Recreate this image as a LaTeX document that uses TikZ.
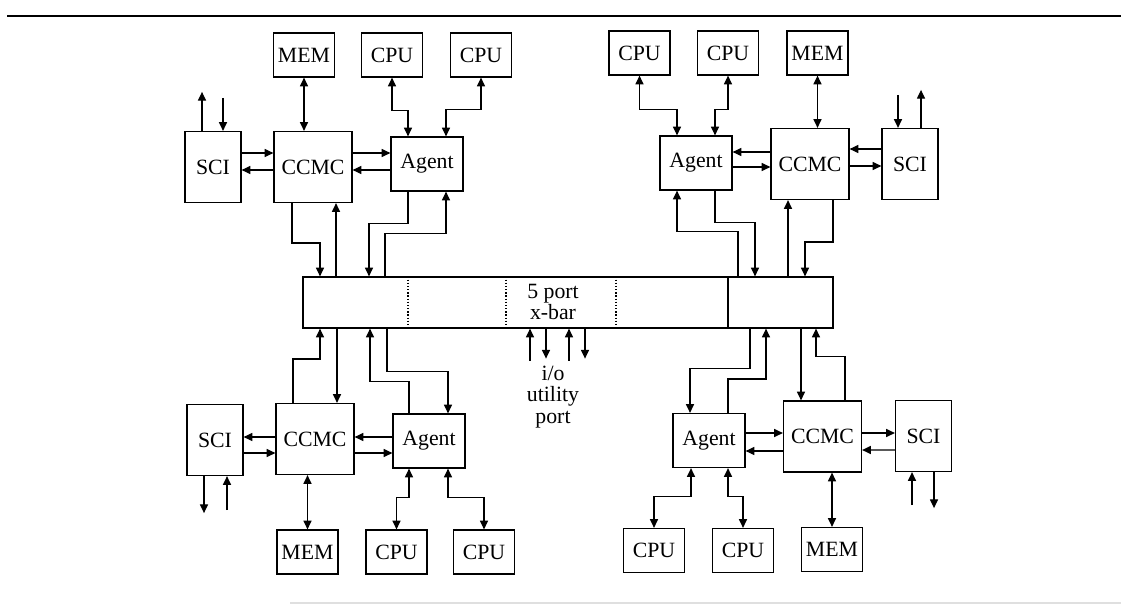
\documentclass[tikz,border=0pt]{standalone}
\usepackage{fontspec}
\setmainfont{Liberation Serif}
\usetikzlibrary{arrows.meta,calc}

\begin{document}
\begin{tikzpicture}[x=0.02cm, y=-0.02cm,
  box/.style={draw, line width=0.7pt, inner sep=0pt, font=\fontsize{12.4}{12}\selectfont},
  unitbox/.style={box, minimum width=1.22cm, minimum height=0.88cm},
  scibox/.style={box, minimum width=1.12cm, minimum height=1.42cm},
  ccbox/.style={box, minimum width=1.56cm, minimum height=1.42cm},
  agbox/.style={box, minimum width=1.44cm, minimum height=1.08cm},
  arr/.style={line width=0.7pt, -{Triangle[length=5pt,width=4.6pt]}},
  bi/.style={line width=0.7pt, {Triangle[length=5pt,width=4.6pt]}-{Triangle[length=5pt,width=4.6pt]}}]
  \useasboundingbox (0,0) rectangle (1121,605);
  % page rules
  \draw[line width=0.9pt] (7,16) -- (1121,16);
  \draw[gray!25, line width=0.6pt] (290,603) -- (1121,603);

  % crossbar
  \node[draw, line width=0.7pt, minimum width=10.6cm, minimum height=1.02cm] (xbar) at (568,302.5) {};
  \foreach \dx in {-160,-62,48}
    \draw[line width=0.7pt, dash pattern=on 0.8pt off 1pt] ($(xbar.north)+(\dx,0)$) -- ($(xbar.south)+(\dx,0)$);
  \draw[line width=0.7pt] ($(xbar.north)+(160,0)$) -- ($(xbar.south)+(160,0)$);
  \node[font=\fontsize{12.4}{11.5}\selectfont, align=center] (xbarlbl) at (553,302) {5 port\\x-bar};

  % top left cluster
  \node[unitbox] (tlmem) at (304,55) {MEM};
  \node[unitbox] (tlcpua) at (392,55) {CPU};
  \node[unitbox] (tlcpub) at (481,55) {CPU};
  \node[scibox] (tlsci) at (213,167) {SCI};
  \node[ccbox] (tlcc) at (313,167) {CCMC};
  \node[agbox] (tlag) at (427,164) {Agent};
  \draw[bi] (tlmem.south) -- (tlmem.south |- tlcc.north);
  \draw[bi] (tlcpua.south) -- ++(0,33) -| ($(tlag.north)+(-19,0)$);
  \draw[bi] (tlcpub.south) -- ++(0,32) -| ($(tlag.north)+(19,0)$);
  \draw[arr] ($(tlsci.north)+(-11,0)$) -- ++(0,-39);
  \draw[arr] ($(tlsci.north)+(10,-33)$) -- ($(tlsci.north)+(10,0)$);
  \draw[arr] ($(tlsci.east)+(0,-14)$) -- ($(tlcc.west)+(0,-14)$);
  \draw[arr] ($(tlcc.west)+(0,3)$) -- ($(tlsci.east)+(0,3)$);
  \draw[arr] ($(tlcc.east)+(0,-14)$) -- ($(tlag.west)+(0,-11)$);
  \draw[arr] ($(tlag.west)+(0,6)$) -- ($(tlcc.east)+(0,3)$);
  \draw[arr] ($(tlcc.south)+(-21,0)$) -- ++(0,40) -| ($(xbar.north)+(-248,0)$);
  \draw[arr] ($(xbar.north)+(-232,0)$) -- ($(tlcc.south)+(23,0)$);
  \draw[arr] ($(tlag.south)+(-19,0)$) -- ++(0,32) -| ($(xbar.north)+(-199,0)$);
  \draw[arr] ($(xbar.north)+(-183,0)$) -- ++(0,-43) -| ($(tlag.south)+(19,0)$);

  % top right cluster
  \node[unitbox] (trcpua) at (639.5,53) {CPU};
  \node[unitbox] (trcpub) at (728,53) {CPU};
  \node[unitbox] (trmem) at (817.5,53) {MEM};
  \node[agbox] (trag) at (696,163) {Agent};
  \node[ccbox] (trcc) at (810,164) {CCMC};
  \node[scibox] (trsci) at (910,164) {SCI};
  \draw[bi] (trcpua.south) -- ++(0,34) -| ($(trag.north)+(-19,0)$);
  \draw[bi] (trcpub.south) -- ++(0,34) -| ($(trag.north)+(19,0)$);
  \draw[bi] (trmem.south) -- (trmem.south |- trcc.north);
  \draw[arr] ($(trsci.north)+(-12,-33)$) -- ($(trsci.north)+(-12,0)$);
  \draw[arr] ($(trsci.north)+(11,0)$) -- ++(0,-38);
  \draw[arr] ($(trcc.west)+(0,-12)$) -- ($(trag.east)+(0,-11)$);
  \draw[arr] ($(trag.east)+(0,4)$) -- ($(trcc.west)+(0,3)$);
  \draw[arr] ($(trsci.west)+(0,-15)$) -- ($(trcc.east)+(0,-15)$);
  \draw[arr] ($(trcc.east)+(0,2)$) -- ($(trsci.west)+(0,2)$);
  \draw[arr] ($(xbar.north)+(170,0)$) -- ++(0,-45) -| ($(trag.south)+(-19,0)$);
  \draw[arr] ($(trag.south)+(19,0)$) -- ++(0,32) -| ($(xbar.north)+(187,0)$);
  \draw[arr] ($(xbar.north)+(220,0)$) -- ($(trcc.south)+(-22,0)$);
  \draw[arr] ($(trcc.south)+(23,0)$) -- ++(0,42) -| ($(xbar.north)+(237,0)$);

  % bottom left cluster
  \node[scibox] (blsci) at (215,440) {SCI};
  \node[ccbox] (blcc) at (315,439) {CCMC};
  \node[agbox] (blag) at (429,441) {Agent};
  \node[unitbox] (blmem) at (307.5,552) {MEM};
  \node[unitbox] (blcpua) at (396.5,552) {CPU};
  \node[unitbox] (blcpub) at (484,552) {CPU};
  \draw[arr] ($(blcc.north)+(-22,0)$) -- ++(0,-44) -| ($(xbar.south)+(-248,0)$);
  \draw[arr] ($(xbar.south)+(-231,0)$) -- ($(blcc.north)+(22,0)$);
  \draw[arr] ($(blag.north)+(-20,0)$) -- ++(0,-32) -| ($(xbar.south)+(-198,0)$);
  \draw[arr] ($(xbar.south)+(-181,0)$) -- ++(0,43) -| ($(blag.north)+(19,0)$);
  \draw[arr] ($(blag.west)+(0,-4)$) -- ($(blcc.east)+(0,-2)$);
  \draw[arr] ($(blcc.east)+(0,14)$) -- ($(blag.west)+(0,12)$);
  \draw[arr] ($(blcc.west)+(0,-2)$) -- ($(blsci.east)+(0,-3)$);
  \draw[arr] ($(blsci.east)+(0,13)$) -- ($(blcc.west)+(0,14)$);
  \draw[arr] ($(blsci.south)+(-11,0)$) -- ++(0,37);
  \draw[arr] ($(blsci.south)+(12,34)$) -- ($(blsci.south)+(12,0)$);
  \draw[bi] (blmem.north) -- (blmem.north |- blcc.south);
  \draw[bi] ($(blag.south)+(-20,0)$) -- ++(0,29) -| (blcpua.north);
  \draw[bi] ($(blag.south)+(19,0)$) -- ++(0,29) -| (blcpub.north);

  % bottom right cluster
  \node[agbox] (brag) at (709,440.5) {Agent};
  \node[ccbox] (brcc) at (822.5,436.5) {CCMC};
  \node[scibox] (brsci) at (923.5,436) {SCI};
  \node[unitbox] (brcpua) at (654,550.5) {CPU};
  \node[unitbox] (brcpub) at (743,550.5) {CPU};
  \node[unitbox] (brmem) at (832,549.5) {MEM};
  \draw[arr] ($(xbar.south)+(182,0)$) -- ++(0,40) -| ($(brag.north)+(-19,0)$);
  \draw[arr] ($(brag.north)+(19,0)$) -- ++(0,-34) -| ($(xbar.south)+(198,0)$);
  \draw[arr] ($(xbar.south)+(233,0)$) -- ($(brcc.north)+(-21.5,0)$);
  \draw[arr] ($(brcc.north)+(22.5,0)$) -- ++(0,-44) -| ($(xbar.south)+(248,0)$);
  \draw[arr] ($(brag.east)+(0,-7.5)$) -- ($(brcc.west)+(0,-3.5)$);
  \draw[arr] ($(brcc.west)+(0,14.5)$) -- ($(brag.east)+(0,10.5)$);
  \draw[arr] ($(brcc.east)+(0,-3.5)$) -- ($(brsci.west)+(0,-3)$);
  \draw[arr] ($(brsci.west)+(0,14)$) -- ($(brcc.east)+(0,13.5)$);
  \draw[arr] ($(brsci.south)+(-11.5,33)$) -- ($(brsci.south)+(-11.5,0)$);
  \draw[arr] ($(brsci.south)+(10.5,0)$) -- ++(0,36);
  \draw[bi] (brmem.north) -- (brmem.north |- brcc.south);
  \draw[bi] ($(brag.south)+(-18,0)$) -- ++(0,28) -| (brcpua.north);
  \draw[bi] ($(brag.south)+(19,0)$) -- ++(0,28) -| (brcpub.north);

  % i/o utility port
  \foreach \dx in {-38,1}
    \draw[arr] ($(xbar.south)+(\dx,32)$) -- ($(xbar.south)+(\dx,0)$);
  \foreach \dx in {-22,17}
    \draw[arr] ($(xbar.south)+(\dx,0)$) -- ($(xbar.south)+(\dx,30)$);
  \node[font=\fontsize{12.4}{12.2}\selectfont, align=center] (iolbl) at (553,397) {i/o\\utility\\port};
\end{tikzpicture}
\end{document}
